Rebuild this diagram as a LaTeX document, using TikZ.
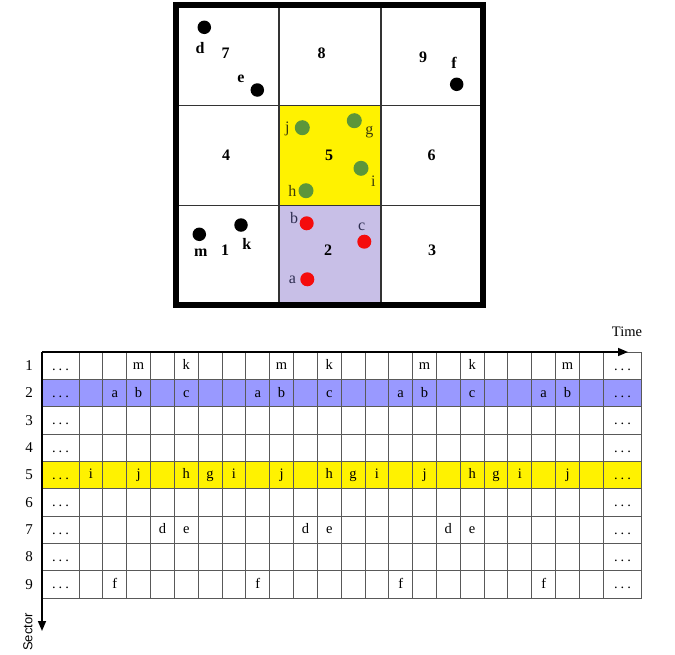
\documentclass[tikz,border=0pt]{standalone}
\usepackage{fontspec}
\setmainfont{Liberation Serif}
\setsansfont{Liberation Sans}
\usetikzlibrary{arrows.meta}
\definecolor{lavender2}{RGB}{200,191,231}
\definecolor{periwinkle}{RGB}{153,153,255}
\definecolor{dotgreen}{RGB}{92,150,58}
\definecolor{dotred}{RGB}{245,12,12}
\definecolor{olivetxt}{RGB}{60,60,10}
\definecolor{navytxt}{RGB}{45,45,80}
\tikzstyle{cellnum}  = [font=\fontsize{16}{16}\selectfont\bfseries, inner sep=0pt]
\tikzstyle{dotlab}   = [font=\fontsize{16}{16}\selectfont, inner sep=0pt]
\tikzstyle{blackdot} = [circle, fill=black, inner sep=0pt, minimum size=13.5pt]
\tikzstyle{greendot} = [circle, fill=dotgreen, inner sep=0pt, minimum size=15pt]
\tikzstyle{reddot}   = [circle, fill=dotred, inner sep=0pt, minimum size=14pt]
\tikzstyle{gridline} = [draw=black!65, line width=0.9pt]
\tikzstyle{tabtxt}   = [font=\fontsize{14.5}{14.5}\selectfont, anchor=base, inner sep=0pt]
\tikzstyle{rowlab}   = [font=\fontsize{15}{15}\selectfont, inner sep=0pt]
\tikzstyle{axis}     = [line width=1.5pt, -{Triangle[length=10pt,width=8pt]}]
\newcommand{\spdots}{.\hspace{3pt}.\hspace{3pt}.}

\begin{document}
\begin{tikzpicture}[x=1pt, y=-1pt]
\useasboundingbox (0,0) rectangle (675,654);

% sector map
\fill[yellow]     (279,105.5) rectangle (381,205.5);
\fill[lavender2]  (279,205.5) rectangle (381,302);
\draw[line width=1.5pt, black!80] (279,5) -- (279,305);
\draw[line width=1.5pt, black!80] (381,5) -- (381,305);
\draw[line width=1.5pt, black!80] (176,105.5) -- (483,105.5);
\draw[line width=1.5pt, black!80] (176,205.5) -- (483,205.5);
\draw[line width=6pt] (176,5) rectangle (483,305);

\node[cellnum] (S7) at (225.7,53)  {7};
\node[cellnum] (S8) at (321.7,53)  {8};
\node[cellnum] (S9) at (423,57)    {9};
\node[cellnum] (S4) at (226,155)   {4};
\node[cellnum] (S5) at (329,155)   {5};
\node[cellnum] (S6) at (431.7,155) {6};
\node[cellnum] (S1) at (225,250)   {1};
\node[cellnum] (S2) at (328,250)   {2};
\node[cellnum] (S3) at (432,250)   {3};

\node[blackdot] (dotd) at (204.3,27.3) {};
\node[blackdot] (dote) at (257.3,90)   {};
\node[blackdot] (dotf) at (456.7,84.3) {};
\node[blackdot] (dotk) at (241,225)    {};
\node[blackdot] (dotm) at (199.3,234.3) {};
\node[cellnum] (labd) at (200,48)    {d};
\node[cellnum] (labe) at (241,79)    {e};
\node[cellnum] (labf) at (454,63)    {f};
\node[cellnum] (labk) at (246.7,244) {k};
\node[cellnum] (labm) at (200.7,252.5) {m};

\node[greendot] (dotj) at (302.3,127.7) {};
\node[greendot] (dotg) at (354.3,120.7) {};
\node[greendot] (doti) at (361,168.3)   {};
\node[greendot] (doth) at (306,190.7)   {};
\node[dotlab, olivetxt] (labj) at (287.3,129)   {j};
\node[dotlab, olivetxt] (labg) at (369.3,132)   {g};
\node[dotlab, olivetxt] (labi) at (373.3,181.5) {i};
\node[dotlab, olivetxt] (labh) at (292.3,190.5) {h};

\node[reddot] (dotb) at (306.7,223.3) {};
\node[reddot] (dotc) at (364.3,241.7) {};
\node[reddot] (dota) at (307.3,279.3) {};
\node[dotlab, navytxt] (labb) at (294,218)    {b};
\node[dotlab, navytxt] (labc) at (361.7,226.5) {c};
\node[dotlab, navytxt] (laba) at (292.3,280)  {a};

% time / sector table
\fill[periwinkle] (42,379.33) rectangle (641.7,406.67);
\fill[yellow]     (42,461.33) rectangle (641.7,488.67);

\foreach \r in {0,...,9}
  \draw[gridline] (42,{352+27.33*\r}) -- (641.7,{352+27.33*\r});
\foreach \c in {0,...,22}
  \draw[gridline] ({79+23.83*\c},352) -- ({79+23.83*\c},597.97);
\draw[gridline] (641.7,352) -- (641.7,597.97);

\foreach \r in {1,...,9} {
  \node[rowlab] (row\r) at (29,{352+27.33*(\r-0.5)}) {\r};
  \node[tabtxt] (ldots\r) at (60.5,{352+27.33*(\r-0.5)+4.5}) {\spdots};
  \node[tabtxt] (rdots\r) at (622.5,{352+27.33*(\r-0.5)+4.5}) {\spdots};
}

\foreach \l/\r/\cs in {m/1/{3,9,15,21}, k/1/{5,11,17},
                       a/2/{2,8,14,20}, b/2/{3,9,15,21}, c/2/{5,11,17},
                       i/5/{1,7,13,19}, j/5/{3,9,15,21}, h/5/{5,11,17}, g/5/{6,12,18},
                       d/7/{4,10,16}, e/7/{5,11,17},
                       f/9/{2,8,14,20}}
  \foreach \c in \cs
    \node[tabtxt] (t\l\c) at ({79+23.83*(\c-0.5)},{352+27.33*(\r-0.5)+4}) {\l};

\coordinate (origin) at (42,352);
\coordinate (timeend) at (628,352);
\coordinate (sectorend) at (42,631);
\draw[axis] (origin) -- (timeend);
\draw[axis] (origin) -- (sectorend);
\node[font=\fontsize{14.5}{14.5}\selectfont] (timelab) at (627,332) {Time};
\node[font=\sffamily\fontsize{13}{13}\selectfont, rotate=90] (sectorlab) at (28,632) {Sector};

\end{tikzpicture}
\end{document}
